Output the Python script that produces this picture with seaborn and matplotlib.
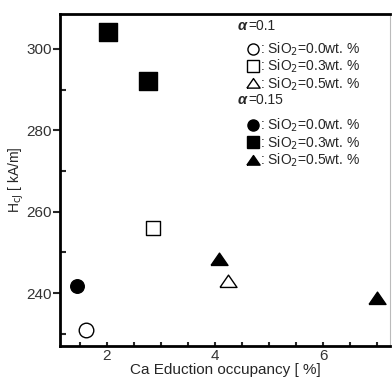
import matplotlib
matplotlib.use("Agg")
import matplotlib.pyplot as plt
from matplotlib.lines import Line2D
from matplotlib.legend import Legend
from matplotlib.ticker import MultipleLocator
import seaborn as sns
import pandas as pd

# values
ca_occupancy = [1.61, 2.85, 4.24, 1.44, 2.02, 2.76, 4.07, 7.0]
hcj = [230.9, 256.0, 242.9, 241.7, 304.2, 292.1, 248.3, 238.8]
alpha = ["0.1", "0.1", "0.1", "0.15", "0.15", "0.15", "0.15", "0.15"]
sio2 = ["0.0", "0.3", "0.5", "0.0", "0.3", "0.3", "0.5", "0.5"]

df = pd.DataFrame({"x": ca_occupancy, "y": hcj, "alpha": alpha, "sio2": sio2})

sns.set_style("ticks")
plt.rcParams["font.family"] = ["Liberation Sans", "DejaVu Sans"]

# flattened triangle like the original
tri = [(-1, -0.7), (1, -0.7), (0, 0.75), (-1, -0.7)]
markers = {"0.0": "o", "0.3": "s", "0.5": tri}
sizes = {("0.1", "0.0"): 110, ("0.1", "0.3"): 115, ("0.1", "0.5"): 150,
         ("0.15", "0.0"): 95, ("0.15", "0.3"): 170, ("0.15", "0.5"): 150}

fig = plt.figure(figsize=(3.92, 3.80), dpi=100)
ax = fig.add_axes([0.153, 0.0895, 0.842, 0.874])

for (a, s), grp in df.groupby(["alpha", "sio2"]):
    filled = a == "0.15"
    sns.scatterplot(data=grp, x="x", y="y", ax=ax, marker=markers[s],
                    s=sizes[(a, s)], color="black" if filled else "white",
                    edgecolor="black", linewidth=1.0, legend=False, zorder=3)

ax.set_xlim(1.13, 7.24)
ax.set_ylim(227, 308.6)
ax.xaxis.set_major_locator(MultipleLocator(2))
ax.xaxis.set_minor_locator(MultipleLocator(0.5))
ax.yaxis.set_major_locator(MultipleLocator(20))
ax.yaxis.set_minor_locator(MultipleLocator(10))
ax.tick_params(axis="x", which="both", direction="in", length=3, width=1.5,
               labelsize=11, labelcolor="#333333", pad=2)
ax.tick_params(axis="y", which="major", direction="out", length=5, width=1.5,
               labelsize=11, labelcolor="#333333", pad=1)
ax.tick_params(axis="y", which="minor", direction="in", length=4, width=1.5)

for side in ["left", "bottom", "top"]:
    ax.spines[side].set_linewidth(2)
    ax.spines[side].set_color("black")
ax.spines["right"].set_linewidth(0.8)
ax.spines["right"].set_color("#bbbbbb")

ax.set_xlabel("Ca Eduction occupancy [ %]", fontsize=11, labelpad=0)
ax.set_ylabel("H$_{\\mathrm{cJ}}$ [ kA/m]", fontsize=10, labelpad=0)

# legend: two groups with headings
def entry(m, filled, ms):
    return Line2D([], [], linestyle="none", marker=m, markersize=ms,
                  markerfacecolor="black" if filled else "white",
                  markeredgecolor="black", markeredgewidth=1.0)

labels = [": SiO$_2$=0.0wt. %", ": SiO$_2$=0.3wt. %", ": SiO$_2$=0.5wt. %"]
for a, filled, ytop, ytxt in [("0.1", False, 0.92, 0.964), ("0.15", True, 0.69, 0.741)]:
    handles = [entry("o", filled, 8), entry("s", filled, 8), entry(tri, filled, 9.5)]
    leg = Legend(ax, handles, labels, loc="upper left", bbox_to_anchor=(0.565, ytop),
                 frameon=False, fontsize=10, handlelength=0.9, handletextpad=0.05,
                 borderpad=0, borderaxespad=0, labelspacing=0.0)
    ax.add_artist(leg)
    ax.text(0.539, ytxt, "α", transform=ax.transAxes, fontsize=10.5,
            fontweight="bold", fontstyle="italic", va="center", ha="left")
    ax.text(0.571, ytxt, "=" + a, transform=ax.transAxes, fontsize=10,
            va="center", ha="left")

fig.savefig("out.png", dpi=100)
